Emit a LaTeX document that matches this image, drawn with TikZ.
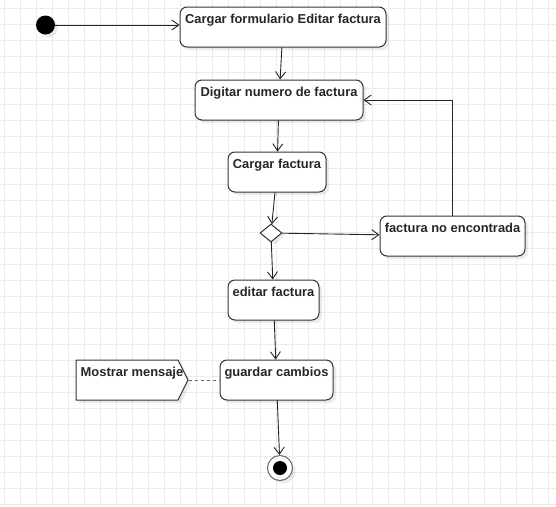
\documentclass[tikz,border=0pt]{standalone}
\usepackage{fontspec}
\setmainfont{Liberation Sans}
\usetikzlibrary{arrows.meta,shapes.geometric,shadows}
\begin{document}
\begin{tikzpicture}[x=1pt,y=-1pt,
    font=\fontsize{12.9}{15}\selectfont\bfseries,
    gridline/.style={draw=black!8,line width=.8pt},
    shade3/.style={drop shadow={shadow xshift=3pt,shadow yshift=-3pt,fill=black,opacity=.08}},
    txt/.style={minimum height=40pt,inner xsep=0pt,inner ysep=7.5pt,text height=9.4pt,text depth=15.6pt,text=black!85},
    act/.style={txt,draw=black!80,line width=1pt,rounded corners=7pt,fill=white,shade3},
    flow/.style={draw=black!85,line width=.9pt,-{Straight Barb[length=7pt,width=10pt]}},
    link/.style={draw=black!60,line width=1pt,dash pattern=on 3pt off 3pt}]
    \fill[white] (0,0) rectangle (556,506);
    \useasboundingbox (0,0) rectangle (556,506);
    \foreach \x in {4,20,...,548} \draw[gridline] (\x,0) -- (\x,506);
    \foreach \y in {8,24,...,504} \draw[gridline] (0,\y) -- (556,\y);

    \node[circle,fill=black,minimum size=19pt,inner sep=0pt,shade3] (ini) at (45.5,25) {};
    \node[act,minimum width=206pt] (form) at (283,27) {Cargar formulario Editar factura};
    \node[act,minimum width=168pt] (digitar) at (279,100) {Digitar numero de factura};
    \node[act,minimum width=98pt] (cargar) at (277,172) {Cargar factura};
    \node[diamond,draw=black!80,fill=white,line width=1pt,minimum width=22pt,minimum height=18pt,inner sep=0pt,shade3] (dec) at (271,233) {};
    \node[act,minimum width=145pt] (noenc) at (452.5,236) {factura no encontrada};
    \node[act,minimum width=91pt] (editar) at (273.5,300) {editar factura};
    \node[act,minimum width=113pt] (guardar) at (276.5,380) {guardar cambios};
    \draw[draw=black!80,line width=1pt,fill=white,shade3] (76,360) -- (178,360) -- (188,380) -- (178,400) -- (76,400) -- cycle
        (132,380) node[txt,minimum width=112pt] (msg) {Mostrar mensaje};
    \node[circle,draw=black!60,fill=white,line width=1pt,minimum size=25pt,inner sep=0pt,shade3] (fin) at (280,468) {};
    \node[circle,fill=black,minimum size=14pt,inner sep=0pt] (finDot) at (fin) {};

    \draw[flow] (ini) -- (ini -| form.west);
    \draw[flow] (form) -- (digitar);
    \draw[flow] (digitar) -- (cargar);
    \draw[flow] (cargar) -- (dec);
    \draw[flow] (dec) -- (noenc);
    \draw[flow] (noenc.north) |- (digitar.east);
    \draw[flow] (dec) -- (editar);
    \draw[flow] (editar) -- (guardar);
    \draw[flow] (guardar) -- (fin);
    \draw[link] (msg.east) -- (guardar.west);
\end{tikzpicture}
\end{document}
